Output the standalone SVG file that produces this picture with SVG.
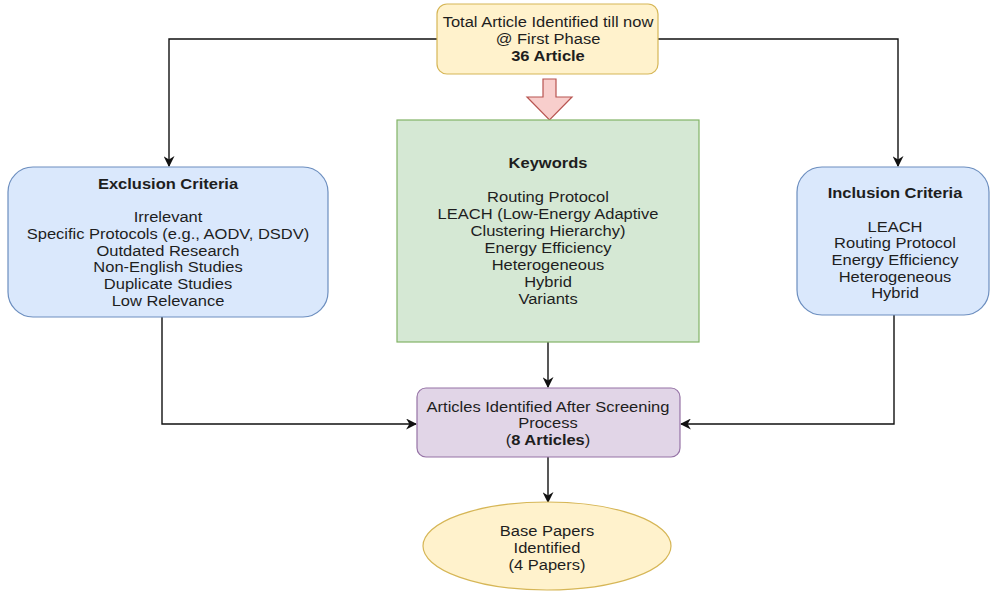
<svg xmlns="http://www.w3.org/2000/svg" width="994" height="594" viewBox="0 0 994 594">
<style>
text{font-family:"Liberation Sans",Arial,sans-serif;font-size:15px;fill:#1e1e1e;text-anchor:middle}
.b{font-weight:bold}
.ln{fill:none;stroke:#111;stroke-width:1.4}
</style>
<defs>
<marker id="ah" viewBox="0 0 10 10" refX="9" refY="5" markerWidth="11" markerHeight="11" markerUnits="userSpaceOnUse" orient="auto">
<path d="M0,0 L10,5 L0,10 L3,5 Z" fill="#111"/>
</marker>
</defs>
<rect width="994" height="594" fill="#ffffff"/>
<g id="connectors">
<polyline class="ln" points="437,39 169,39 169,166" marker-end="url(#ah)"/>
<polyline class="ln" points="658,39 898,39 898,166" marker-end="url(#ah)"/>
<polyline class="ln" points="162,317 162,424 416,424" marker-end="url(#ah)"/>
<polyline class="ln" points="894,315 894,424 681,424" marker-end="url(#ah)"/>
<line class="ln" x1="548" y1="342" x2="548" y2="387" marker-end="url(#ah)"/>
<line class="ln" x1="548" y1="457" x2="548" y2="502" marker-end="url(#ah)"/>
<path d="M543,79 L556,79 L556,97 L572,97 L549.5,120 L527,97 L543,97 Z" fill="#f8cecc" stroke="#b85450" stroke-width="1.2"/>
</g>
<g id="top">
<rect x="437" y="4" width="221" height="70" rx="10" fill="#fff2cc" stroke="#d6b656" stroke-width="1.2"/>
<g transform="translate(548,0) scale(1.1,1)">
<text x="0" y="27">Total Article Identified till now</text>
<text x="0" y="44">@ First Phase</text>
<text x="0" y="61" class="b">36 Article</text>
</g>
</g>
<g id="exclusion">
<rect x="8" y="167" width="320" height="150" rx="25" fill="#dae8fc" stroke="#6c8ebf" stroke-width="1.2"/>
<g transform="translate(168,0) scale(1.1,1)">
<text x="0" y="189" class="b">Exclusion Criteria</text>
<text x="0" y="222">Irrelevant</text>
<text x="0" y="239">Specific Protocols (e.g., AODV, DSDV)</text>
<text x="0" y="256">Outdated Research</text>
<text x="0" y="272">Non-English Studies</text>
<text x="0" y="289">Duplicate Studies</text>
<text x="0" y="306">Low Relevance</text>
</g>
</g>
<g id="keywords">
<rect x="397" y="120" width="302" height="222" fill="#d5e8d4" stroke="#82b366" stroke-width="1.2"/>
<g transform="translate(548,0) scale(1.1,1)">
<text x="0" y="168" class="b">Keywords</text>
<text x="0" y="202">Routing Protocol</text>
<text x="0" y="219">LEACH (Low-Energy Adaptive</text>
<text x="0" y="236">Clustering Hierarchy)</text>
<text x="0" y="253">Energy Efficiency</text>
<text x="0" y="270">Heterogeneous</text>
<text x="0" y="287">Hybrid</text>
<text x="0" y="304">Variants</text>
</g>
</g>
<g id="inclusion">
<rect x="797" y="167" width="192" height="148" rx="25" fill="#dae8fc" stroke="#6c8ebf" stroke-width="1.2"/>
<g transform="translate(895,0) scale(1.1,1)">
<text x="0" y="198" class="b">Inclusion Criteria</text>
<text x="0" y="232">LEACH</text>
<text x="0" y="248">Routing Protocol</text>
<text x="0" y="265">Energy Efficiency</text>
<text x="0" y="282">Heterogeneous</text>
<text x="0" y="298">Hybrid</text>
</g>
</g>
<g id="screening">
<rect x="417" y="388" width="263" height="69" rx="9" fill="#e1d5e7" stroke="#9673a6" stroke-width="1.2"/>
<g transform="translate(548,0) scale(1.1,1)">
<text x="0" y="412">Articles Identified After Screening</text>
<text x="0" y="428">Process</text>
<text x="0" y="445">(<tspan class="b">8 Articles</tspan>)</text>
</g>
</g>
<g id="base">
<ellipse cx="547" cy="546" rx="124" ry="44" fill="#fff2cc" stroke="#d6b656" stroke-width="1.2"/>
<g transform="translate(547,0) scale(1.1,1)">
<text x="0" y="536">Base Papers</text>
<text x="0" y="553">Identified</text>
<text x="0" y="570">(4 Papers)</text>
</g>
</g>
</svg>
